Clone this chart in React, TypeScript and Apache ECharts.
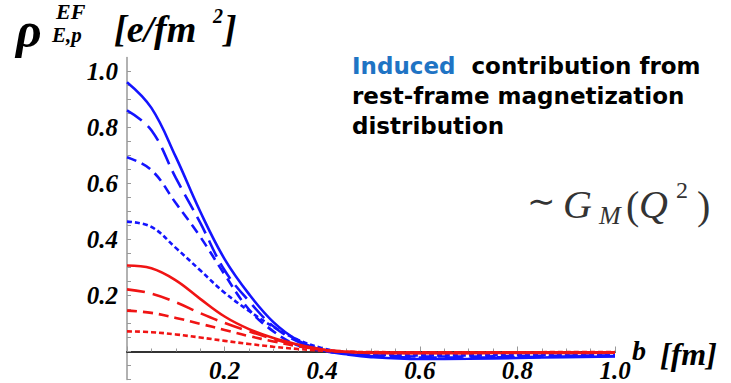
import React, { useEffect, useRef } from "react";
import * as echarts from "echarts";

// impact parameter b [fm]
const bValues = [0, 0.05, 0.1, 0.15, 0.2, 0.25, 0.3, 0.35, 0.4, 0.45, 0.5, 0.6, 0.7, 0.8, 0.9, 1.0];

// blue curves (solid, long dash, medium dash, short dash)
const blueSolid = [0.962, 0.87, 0.695, 0.5, 0.33, 0.205, 0.105, 0.04, 0.005, -0.01, -0.02, -0.027, -0.026, -0.023, -0.02, -0.018];
const blueLong = [0.861, 0.79, 0.62, 0.46, 0.29, 0.18, 0.09, 0.035, 0.005, -0.008, -0.016, -0.022, -0.022, -0.02, -0.018, -0.016];
const blueMedium = [0.694, 0.648, 0.53, 0.41, 0.275, 0.15, 0.072, 0.022, 0.002, -0.008, -0.013, -0.018, -0.018, -0.016, -0.015, -0.014];
const blueShort = [0.464, 0.445, 0.37, 0.29, 0.21, 0.145, 0.088, 0.042, 0.012, -0.004, -0.01, -0.014, -0.014, -0.013, -0.012, -0.011];

// red curves (solid, long dash, medium dash, short dash)
const redSolid = [0.307, 0.297, 0.254, 0.188, 0.125, 0.08, 0.048, 0.025, 0.007, -0.002, -0.005, -0.006, -0.006, -0.005, -0.005, -0.004];
const redLong = [0.222, 0.207, 0.176, 0.137, 0.102, 0.072, 0.045, 0.021, 0.006, -0.001, -0.004, -0.005, -0.005, -0.004, -0.004, -0.004];
const redMedium = [0.146, 0.138, 0.12, 0.099, 0.077, 0.055, 0.036, 0.019, 0.007, 0.0, -0.003, -0.004, -0.004, -0.004, -0.003, -0.003];
const redShort = [0.072, 0.069, 0.061, 0.05, 0.038, 0.027, 0.017, 0.009, 0.003, -0.001, -0.002, -0.003, -0.003, -0.003, -0.002, -0.002];

const BLUE = "#1414ff";
const RED = "#f01414";
const SERIF = "Liberation Serif";
const SANS = "DejaVu Sans";

function pairs(ys: number[]) {
  return bValues.map((b, i) => [b, ys[i]]);
}

function line(name: string, ys: number[], color: string, dash: number[] | "solid") {
  return {
    name,
    type: "line",
    data: pairs(ys),
    smooth: 0.4,
    showSymbol: false,
    symbol: "none",
    lineStyle: { color, width: 2.6, type: dash },
    z: 3,
  };
}

function fmtLabel(v: number) {
  if (v <= 0.0001) return "";
  if (Math.abs(v * 5 - Math.round(v * 5)) > 1e-6) return "";
  return v.toFixed(1);
}

type TOpt = { italic?: boolean; bold?: boolean; family?: string; color?: string; align?: string };

function txt(x: number, y: number, text: string, size: number, o: TOpt = {}) {
  return {
    type: "text",
    x,
    y,
    style: {
      text,
      fontSize: size,
      fontFamily: o.family || SERIF,
      fontStyle: o.italic ? "italic" : "normal",
      fontWeight: o.bold ? "bold" : "normal",
      fill: o.color || "#000",
      align: o.align || "left",
      verticalAlign: "middle",
    },
    z: 10,
  };
}

export default function App() {
  const ref = useRef<HTMLDivElement>(null);
  useEffect(() => {
    if (!ref.current) return;
    const chart = echarts.init(ref.current, null, { renderer: "svg" });
    const BI = { italic: true, bold: true };
    const SB = { bold: true, family: SANS };
    const G = { color: "#333" };
    const GI = { color: "#333", italic: true };
    chart.setOption({
      animation: false,
      backgroundColor: "#ffffff",
      grid: { left: 127, right: 116, top: 57.5, bottom: 3.5, containLabel: false },
      xAxis: {
        type: "value",
        min: 0,
        max: 1,
        interval: 0.2,
        position: "bottom",
        offset: -28,
        axisLine: { onZero: false, lineStyle: { color: "#333", width: 2 } },
        axisTick: { inside: true, length: 5, lineStyle: { color: "#999", width: 1 } },
        minorTick: { show: true, splitNumber: 4, length: 3, lineStyle: { color: "#999", width: 1 } },
        axisLabel: {
          formatter: fmtLabel,
          margin: 6,
          color: "#000",
          fontFamily: SERIF,
          fontStyle: "italic",
          fontWeight: "bold",
          fontSize: 25,
          showMaxLabel: true,
        },
        splitLine: { show: false },
      },
      yAxis: {
        type: "value",
        min: -0.1,
        max: 1.05,
        interval: 0.05,
        axisLine: { show: true, onZero: false, lineStyle: { color: "#999", width: 1.5 } },
        axisTick: { show: true, inside: true, length: 4, lineStyle: { color: "#999", width: 1 } },
        axisLabel: {
          formatter: fmtLabel,
          margin: 9,
          color: "#000",
          fontFamily: SERIF,
          fontStyle: "italic",
          fontWeight: "bold",
          fontSize: 25,
          showMaxLabel: false,
        },
        splitLine: { show: false },
      },
      series: [
        line("blue solid", blueSolid, BLUE, "solid"),
        line("blue long", blueLong, BLUE, [18, 8]),
        line("blue medium", blueMedium, BLUE, [10, 6]),
        line("blue short", blueShort, BLUE, [5, 3]),
        line("red solid", redSolid, RED, "solid"),
        line("red long", redLong, RED, [18, 8]),
        line("red medium", redMedium, RED, [10, 6]),
        line("red short", redShort, RED, [5, 3]),
      ],
      graphic: [
        // y axis name: rho^{EF}_{E,p} [e/fm^2]
        txt(16, 30, "ρ", 50, BI),
        txt(56, 11, "EF", 22, BI),
        txt(52, 35, "E,p", 21, BI),
        txt(114, 29, "[e/fm", 38, BI),
        txt(213, 16, "2", 20, BI),
        txt(224, 29, "]", 38, BI),
        // x axis name: b [fm]
        txt(632, 350, "b", 28, BI),
        txt(660, 354, "[fm]", 32, BI),
        // description text
        {
          type: "text",
          x: 352,
          y: 66,
          style: {
            text: "{b|Induced}  {k|contribution from}",
            fontSize: 23,
            fontFamily: SANS,
            fontWeight: "bold",
            verticalAlign: "middle",
            rich: {
              b: { fontSize: 23, fontFamily: SANS, fontWeight: "bold", fill: "#1f74c4", color: "#1f74c4" },
              k: { fontSize: 23, fontFamily: SANS, fontWeight: "bold", fill: "#000", color: "#000" },
            },
          },
          z: 10,
        },
        txt(352, 96, "rest-frame magnetization", 23, SB),
        txt(352, 126, "distribution", 23, SB),
        // ~ G_M(Q^2)
        txt(527, 201, "∼", 34, G),
        txt(563, 204, "G", 40, GI),
        txt(599, 215, "M", 26, GI),
        txt(626, 205, "(", 40, G),
        txt(639, 204, "Q", 40, GI),
        txt(676, 190, "2", 24, G),
        txt(697, 205, ")", 40, G),
      ],
    });
    return () => chart.dispose();
  }, []);
  return (
    <div
      ref={ref}
      style={{ position: "absolute", left: 0, top: 0, width: 731, height: 383, overflow: "hidden", background: "#fff" }}
    />
  );
}
